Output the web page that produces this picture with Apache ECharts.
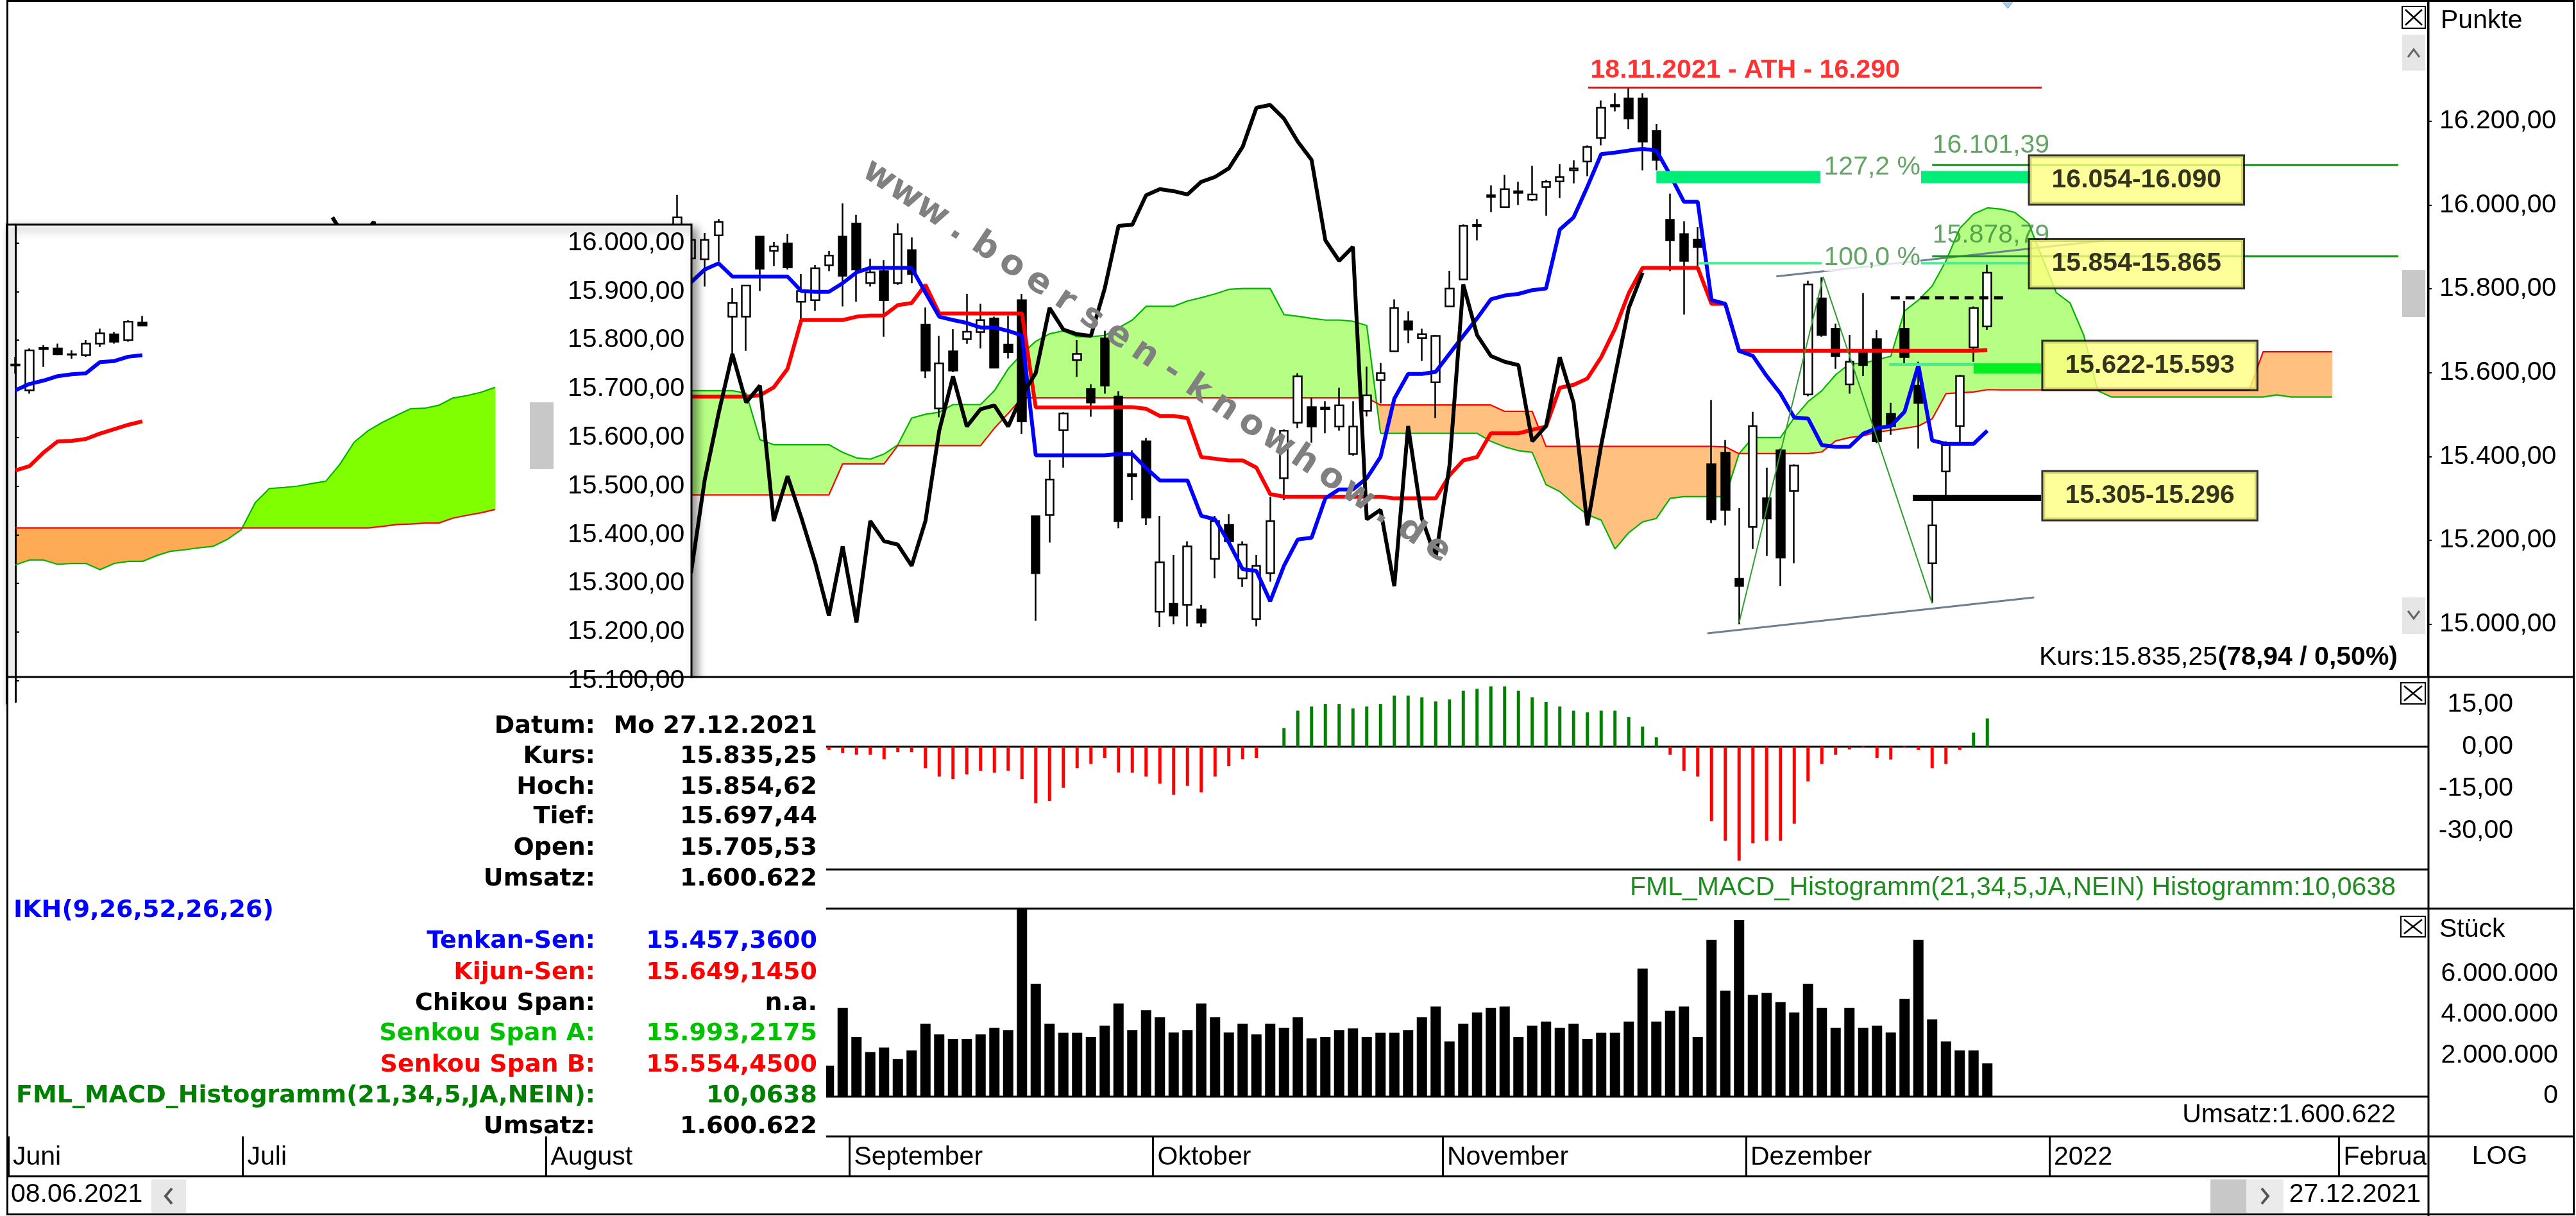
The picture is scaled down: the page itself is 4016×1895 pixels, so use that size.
<!DOCTYPE html>
<html>
<head>
<meta charset="utf-8">
<script src="https://cdn.jsdelivr.net/npm/echarts@6.0.0/dist/echarts.min.js"></script>
<style>
html,body{margin:0;padding:0;background:#ffffff;}
#chart{width:4016px;height:1895px;}
</style>
</head>
<body>
<div id="chart"></div>
<script>
// ================= DATA =================
const firstDate = '2021-06-08';
const lastDate = '2022-02-08';
const closedDays = ['2021-12-24'];
const monthNames = ['Januar','Februar','März','April','Mai','Juni','Juli','August','September','Oktober','November','Dezember'];

// candles (index 48 .. 143 = 27.12.2021)
const candleStart = 48;
const open = [
15930,15870,15868,15926,15729,15729,15923,15888,15906,15765,
15769,15853,15923,15955,15810,15839,15810,15890,15710,15510,
15646,15675,15692,15725,15662,15769,15256,15259,15458,15625,
15556,15677,15538,15355,15432,15035,15053,15051,15040,15157,
15236,15112,15018,15124,15345,15476,15513,15512,15467,15402,
15504,15577,15646,15718,15678,15572,15754,15819,15948,16020,
15995,16030,16013,16044,16058,16085,16107,16165,16243,16263,
16263,16182,15964,15929,15916,15378,15405,15111,15231,15298,
15411,15315,15543,15773,15700,15567,15643,15675,15497,15700,
15564,15147,15361,15468,15655,15705.53];
const high = [
16025,15935,15932,15966,15798,15806,15925,15910,15929,15832,
15854,15888,16004,15976,15869,15866,15955,15921,15751,15683,
15699,15784,15760,15729,15732,15784,15256,15388,15501,15673,
15567,15695,15551,15411,15440,15257,15166,15198,15050,15257,
15261,15198,15166,15302,15460,15594,15535,15527,15559,15527,
15609,15618,15771,15742,15700,15685,15840,15953,15966,16048,
16074,16057,16096,16062,16100,16110,16147,16258,16276,16290,
16276,16200,16028,15960,15946,15530,15435,15275,15502,15370,
15415,15378,15816,15824,15712,15685,15786,15697,15523,15767,
15621,15293,15432,15590,15754,15854.62];
const low = [
15900,15850,15802,15862,15640,15647,15791,15851,15843,15717,
15743,15839,15754,15765,15802,15681,15806,15810,15582,15489,
15596,15664,15653,15607,15629,15450,15014,15195,15370,15585,
15490,15545,15228,15294,15236,15000,15006,15001,15000,15112,
15190,15092,15001,15104,15294,15463,15429,15451,15457,15398,
15491,15522,15644,15665,15623,15487,15752,15819,15914,15983,
15995,16000,16010,15974,16017,16053,16071,16147,16231,16187,
16085,16085,15839,15734,15846,15240,15235,15006,15180,15164,
15094,15147,15539,15681,15604,15545,15587,15428,15447,15613,
15415,15055,15296,15426,15621,15697.44];
const close = [
15970,15915,15915,15959,15762,15804,15845,15899,15848,15791,
15846,15877,15828,15843,15836,15769,15929,15832,15600,15617,
15600,15693,15721,15607,15644,15479,15124,15342,15498,15640,
15524,15564,15245,15350,15253,15149,15026,15186,15010,15245,
15198,15190,15141,15245,15457,15586,15467,15508,15517,15467,
15541,15594,15750,15698,15687,15683,15797,15949,15952,16024,
16039,16034,16026,16057,16069,16090,16143,16240,16247,16213,
16156,16111,15914,15864,15898,15249,15271,15094,15468,15251,
15160,15375,15807,15685,15635,15621,15613,15432,15468,15632,
15523,15235,15423,15587,15750,15835.25];

// Ichimoku lines
const lineStart = 49;
const tenkan = [
15812,15843,15858,15826,15826,15826,15826,15826,15791,15789,
15789,15810,15836,15847,15847,15847,15847,15787,15729,15721,
15714,15703,15703,15695,15684,15399,15399,15399,15399,15399,
15399,15402,15402,15369,15340,15340,15340,15257,15249,15195,
15133,15129,15059,15141,15202,15206,15298,15319,15319,15345,
15395,15533,15592,15592,15597,15640,15683,15725,15771,15780,
15784,15793,15797,15940,15970,16045,16125,16129,16134,16138,
16134,16074,16008,16008,15769,15760,15647,15635,15587,15545,
15488,15486,15423,15419,15419,15450,15463,15468,15502,15613,
15434,15426,15426,15426,15457.36];
const kijun = [
15538,15538,15538,15538,15538,15541,15560,15604,15721,15721,
15721,15721,15729,15732,15732,15757,15762,15806,15737,15737,
15737,15737,15737,15737,15737,15512,15512,15512,15512,15512,
15512,15513,15513,15509,15492,15492,15487,15395,15391,15387,
15387,15370,15308,15302,15302,15302,15302,15302,15302,15302,
15302,15298,15298,15298,15298,15352,15387,15395,15451,15451,
15451,15459,15467,15559,15566,15581,15632,15700,15786,15847,
15847,15847,15847,15847,15760,15760,15647,15647,15647,15647,
15647,15647,15647,15647,15647,15647,15647,15647,15647,15647,
15647,15647,15647,15647,15649.145];
// Chikou span (closes plotted 25 bars back), index 23 .. 118
const chikouStart = 23;
const chikou = [
15970,15915,15915,15959,15762,15804,15845,15899,15848,15791,
15846,15877,15828,15843,15836,15769,15929,15832,15600,15617,
15600,15693,15721,15607,15644,
15479,15124,15342,15498,15640,15524,15564,15245,15350,15253,
15149,15026,15186,15010,15245,15198,15190,15141,15245,15457,
15586,15467,15508,15517,15467,15541,15594,15750,15698,15687,
15683,15797,15949,15952,16024,16039,16034,16026,16057,16069,
16090,16143,16240,16247,16213,16156,16111,15914,15864,15898,
15249,15271,15094,15468,15251,15160,15375,15807,15685,15635,
15621,15613,15432,15468,15632,15523,15235,15423,15587,15750,
15835.25];
// Senkou spans, index 49 .. 168
const spanStart = 49;
const senkouA = [
15552,15552,15552,15552,15546,15436,15424,15424,15424,15424,
15424,15406,15393,15390,15402,15424,15487,15496,15501,15519,
15519,15519,15552,15604,15640,15670,15688,15695,15681,15681,
15684,15702,15721,15754,15754,15754,15767,15775,15784,15795,
15797,15797,15797,15734,15730,15725,15721,15721,15718,15708,
15451,15451,15451,15451,15451,15451,15451,15451,15432,15419,
15410,15406,15330,15314,15285,15260,15247,15180,15218,15243,
15251,15298,15302,15302,15302,15302,15403,15441,15441,15441,
15488,15526,15552,15590,15616,15617,15626,15634,15743,15769,
15803,15864,15943,15978,15993.2175,15990,15982,15955,15870,15787,
15762,15684,15552,15537,15537,15537,15537,15537,15537,15537,
15537,15537,15537,15537,15537,15542,15537,15537,15537,15537];
const senkouB = [
15306,15306,15306,15306,15306,15306,15306,15306,15306,15306,
15306,15379,15379,15379,15379,15422,15422,15422,15422,15422,
15422,15422,15463,15498,15535,15535,15535,15535,15535,15535,
15535,15535,15535,15535,15535,15535,15535,15535,15535,15535,
15535,15535,15535,15535,15535,15535,15535,15535,15535,15535,
15518,15518,15518,15518,15518,15518,15518,15518,15518,15503,
15503,15503,15420,15420,15420,15420,15420,15420,15420,15420,
15420,15420,15420,15420,15420,15419,15403,15403,15403,15403,
15403,15403,15407,15433,15441,15445,15454,15458,15463,15468,
15485,15545,15547,15549,15554.45,15554,15554,15554,15554,15554,
15554,15554,15554,15554,15554,15554,15554,15554,15554,15554,
15554,15554,15554,15554,15645,15645,15645,15645,15645,15645];

// MACD histogram and volume, index 59 .. 143
const histStart = 59;
const macd = [
-1.2,-2.3,-2.9,-2.9,-4.5,-2.0,-2.0,-7.7,-10.7,-11.6,
-9.9,-8.6,-9.3,-8.6,-11.6,-20.2,-19.4,-14.7,-7.7,-6.2,
-4.0,-9.2,-9.3,-10.7,-13.2,-17.2,-14.0,-16.3,-10.7,-7.0,
-4.5,-4.0,0,6.6,12.8,14.3,15.2,15.2,13.6,14.3,
15.2,18.2,18.2,17.6,16.1,16.8,19.9,20.6,21.5,21.5,
19.9,17.6,15.9,14.3,12.8,12.2,12.8,12.8,10.6,7.1,
3.3,-2.9,-8.6,-10.7,-26.6,-33.6,-40.7,-34.5,-33.6,-33.6,
-27.5,-12.4,-6.2,-2.9,-1.0,-0.3,-4.0,-4.6,-0.3,-1.2,
-7.7,-6.2,-1.2,5.0,10.0638];
const volume = [
1490000,4320000,2900000,2160000,2380000,1820000,2240000,3540000,3020000,2800000,
2800000,3020000,3350000,3240000,9500000,5510000,3540000,3100000,3100000,2900000,
3450000,4540000,3240000,4210000,3870000,3120000,3240000,4540000,3870000,3120000,
3540000,3020000,3540000,3350000,3870000,2830000,2900000,3240000,3320000,2900000,
3100000,3100000,3240000,3870000,4390000,2680000,3540000,4100000,4320000,4390000,
2900000,3450000,3650000,3350000,3540000,2800000,3100000,3100000,3650000,6250000,
3650000,4190000,4390000,2900000,7660000,5170000,8630000,4960000,5060000,4610000,
4100000,5510000,4320000,3350000,4320000,3350000,3450000,3120000,4760000,7660000,
3760000,2680000,2240000,2240000,1600622];

// axis tick values
const priceTicks = [15000,15200,15400,15600,15800,16000,16200];
const macdTicks = [-30,-15,0,15];
const volTicks = [0,2000000,4000000,6000000];
const insetTicks = [15100,15200,15300,15400,15500,15600,15700,15800,15900,16000];

// inset (small chart) data, index 0 .. 34
const insetOpen  = [15748,15697,15782,15783,15770,15769,15793,15812,15800,15836];
const insetHigh  = [15766,15783,15790,15793,15779,15800,15824,15817,15841,15850];
const insetLow   = [15731,15690,15745,15769,15762,15766,15786,15793,15797,15829];
const insetClose = [15750,15779,15784,15771,15771,15793,15814,15797,15838,15830];
const insetTenkan = [15697,15710,15717,15726,15730,15732,15755,15757,15766,15769];
const insetKijun  = [15532,15541,15569,15592,15593,15597,15608,15617,15626,15633];
const insetSpanA = [15338,15348,15348,15339,15341,15341,15328,15341,15345,15345,
15357,15366,15369,15373,15376,15390,15410,15466,15495,15497,
15500,15505,15510,15545,15590,15614,15631,15645,15659,15660,
15666,15681,15686,15693,15703];
const insetSpanB = [15414,15414,15414,15414,15414,15414,15414,15414,15414,15414,
15414,15414,15414,15414,15414,15414,15414,15414,15414,15414,
15414,15414,15414,15414,15414,15414,15417,15421,15422,15424,
15424,15434,15440,15445,15452];

// annotations drawn in chart coordinates [bar index, price]
const athLine = [[114.06,16290],[146.94,16290]];
const fib127Bars = [[[119.0,16068.5],[130.9,16068.5]], [[138.2,16068.5],[146.2,16068.5]]];
const fib127Line = [[139.0,16098],[172.8,16098]];
const fib100Thin = [[[122.1,15858],[131.0,15858]], [[138.2,15858],[146.2,15858]]];
const fib100Line = [[139.0,15875],[172.8,15875]];
const zoneThin = [[135.9,15614.6],[142.2,15614.6]];
const zoneBar = [[142.0,15605],[146.9,15605]];
const supportBar = [[137.6,15299],[146.9,15299]];
const dashedLine = [[136.0,15774.7],[144.2,15774.7]];
const trendLow = [[122.7,14985.3],[146.4,15067.9]];
const trendHigh = [[127.7,15826.2],[151.4,15913.3]];
const zigzag = [[125.0,15010],[131.1,15825],[139.0,15054]];
const textNotes = [
  {pos:[114.2,16333], text:'18.11.2021 - ATH - 16.290', kind:'ath'},
  {pos:[131.13,16092], text:'127,2 %', kind:'fib'},
  {pos:[139.0,16146], text:'16.101,39', kind:'fib'},
  {pos:[131.13,15871], text:'100,0 %', kind:'fib'},
  {pos:[139.0,15926], text:'15.878,79', kind:'fib'}
];
const zoneBoxes = [
  {pos:[146.06,16061.4], text:'16.054-16.090'},
  {pos:[146.06,15857], text:'15.854-15.865'},
  {pos:[147.03,15612.3], text:'15.622-15.593'},
  {pos:[147.03,15304.2], text:'15.305-15.296'}
];

// ================= HELPERS =================
const REG = 'Liberation Sans';
const TAH = 'DejaVu Sans';
const de = (v, d) => {
  const neg = v < 0;
  const s = Math.abs(v).toFixed(d).split('.');
  const int = s[0].replace(/\B(?=(\d{3})+(?!\d))/g, '.');
  return (neg ? '-' : '') + int + (s[1] ? ',' + s[1] : '');
};
const fmtDate = s => s.slice(8,10) + '.' + s.slice(5,7) + '.' + s.slice(0,4);

// trading-day calendar
const dates = [];
for (let d = new Date(firstDate + 'T12:00:00Z'); d <= new Date(lastDate + 'T12:00:00Z'); d.setUTCDate(d.getUTCDate() + 1)) {
  const wd = d.getUTCDay();
  const s = d.toISOString().slice(0, 10);
  if (wd === 0 || wd === 6 || closedDays.includes(s)) continue;
  dates.push(s);
}
const monthTicks = [];
const monthLabel = {};
dates.forEach((s, j) => {
  if (j === 0 || s.slice(5, 7) !== dates[j - 1].slice(5, 7)) {
    const v = j - 0.5;
    monthTicks.push(v);
    const m = +s.slice(5, 7);
    monthLabel[v] = m === 1 ? s.slice(0, 4) : monthNames[m - 1];
  }
});

// layout constants
const plotLeft = 13, plotRight = 3785, barStep = 21.5;
const xMin = -0.5, xMax = -0.5 + (plotRight - plotLeft) / barStep;
const insetRight = 870, insetStep = 22;
const insetXMax = -0.5 + (insetRight - plotLeft) / insetStep;

const pairs = (start, arr) => arr.map((v, k) => [start + k, v]);
const lastIdx = candleStart + close.length - 1;

const candleData = open.map((o, k) => [candleStart + k, o, close[k], low[k], high[k]]);
const insetCandleData = insetOpen.map((o, k) => [k, o, insetClose[k], insetLow[k], insetHigh[k]]);

const cloudData = (start, A, B) => {
  const out = [];
  for (let k = 0; k < A.length - 1; k++) out.push([start + k, A[k], B[k], A[k + 1], B[k + 1]]);
  return out;
};
function cloudRender(up, down) {
  return function (params, api) {
    const i = api.value(0);
    const a0 = api.coord([i, api.value(1)]), b0 = api.coord([i, api.value(2)]);
    const a1 = api.coord([i + 1, api.value(3)]), b1 = api.coord([i + 1, api.value(4)]);
    const d0 = b0[1] - a0[1], d1 = b1[1] - a1[1];
    const poly = (pts, c) => ({type: 'polygon', shape: {points: pts}, style: {fill: c, stroke: c, lineWidth: 1}});
    const ch = [];
    if (d0 * d1 >= 0) {
      ch.push(poly([a0, a1, b1, b0], (d0 + d1) >= 0 ? up : down));
    } else {
      const t = d0 / (d0 - d1);
      const X = [a0[0] + t * (a1[0] - a0[0]), a0[1] + t * (a1[1] - a0[1])];
      ch.push(poly([a0, X, b0], d0 >= 0 ? up : down));
      ch.push(poly([X, a1, b1], d1 >= 0 ? up : down));
    }
    return {type: 'group', children: ch};
  };
}
const lineS = (data, color, width, z, extra) => Object.assign({
  type: 'line', xAxisIndex: 0, yAxisIndex: 0, data, symbol: 'none', showSymbol: false, silent: true, z,
  lineStyle: {color, width, cap: 'butt'}
}, extra || {});

// ================= SERIES =================
const series = [];
// main chart
series.push({type: 'custom', xAxisIndex: 0, yAxisIndex: 0, z: 2, silent: true, clip: true,
  data: cloudData(spanStart, senkouA, senkouB), encode: {x: 0, y: [1, 2]},
  renderItem: cloudRender('#B6FF84', '#FFC080')});
series.push(lineS(pairs(spanStart, senkouA), '#00B400', 2.2, 3));
series.push(lineS(pairs(spanStart, senkouB), '#FF0000', 2.2, 3));
series.push({type: 'candlestick', xAxisIndex: 0, yAxisIndex: 0, z: 4, silent: true, barWidth: 13,
  data: candleData, encode: {x: 0, y: [1, 2, 3, 4]},
  itemStyle: {color: '#ffffff', color0: '#000000', borderColor: '#000000', borderColor0: '#000000', borderColorDoji: '#000000', borderWidth: 2.5}});
series.push(lineS(pairs(lineStart, kijun), '#FF0000', 6, 5));
series.push(lineS(pairs(lineStart, tenkan), '#0000FF', 6, 5));
series.push(lineS(pairs(chikouStart, chikou), '#000000', 6, 5));
// annotations
series.push(lineS(trendLow, '#6E7F92', 3, 6));
series.push(lineS(trendHigh, '#6E7F92', 3, 6));
series.push(lineS(zigzag, '#2E9E2E', 2, 6));
series.push(lineS(athLine, '#FF0000', 3, 6));
fib127Bars.forEach(d => series.push(lineS(d, '#00EE77', 19, 6)));
series.push(lineS(fib127Line, '#1E8C1E', 3, 6));
fib100Thin.forEach(d => series.push(lineS(d, '#44EE8C', 4, 6)));
series.push(lineS(fib100Line, '#1E8C1E', 3, 6));
series.push(lineS(zoneThin, '#44EE8C', 4, 6));
series.push(lineS(zoneBar, '#00EE22', 16, 6));
series.push(lineS(supportBar, '#000000', 10, 6));
series.push(lineS(dashedLine, '#000000', 5, 6, {lineStyle: {color: '#000', width: 5, type: [14, 9]}}));
// annotation texts
series.push({type: 'scatter', xAxisIndex: 0, yAxisIndex: 0, z: 7, silent: true, symbolSize: 1,
  itemStyle: {color: 'rgba(0,0,0,0)'},
  data: textNotes.map(n => ({value: n.pos, label: n.kind === 'ath'
    ? {show: true, position: 'right', distance: 0, formatter: n.text, color: '#FF0000', fontFamily: REG, fontWeight: 'bold', fontSize: 41}
    : {show: true, position: 'right', distance: 0, formatter: n.text, color: '#3C8C3C', fontFamily: REG, fontSize: 41, backgroundColor: n.text.indexOf('%') > 0 ? '#ffffff' : 'transparent'}}))});
series.push({type: 'scatter', xAxisIndex: 0, yAxisIndex: 0, z: 9, silent: true, symbolSize: 1,
  itemStyle: {color: 'rgba(0,0,0,0)'},
  data: zoneBoxes.map(b => ({value: b.pos})),
  label: {show: true, position: 'right', distance: 0,
    formatter: p => zoneBoxes[p.dataIndex].text,
    backgroundColor: '#FFFF80', borderColor: '#000', borderWidth: 3, padding: [14, 34, 14, 34], lineHeight: 46,
    color: '#000', fontFamily: REG, fontWeight: 'bold', fontSize: 41}});
// MACD
series.push({type: 'bar', xAxisIndex: 1, yAxisIndex: 2, silent: true, barWidth: 5,
  data: pairs(histStart, macd),
  itemStyle: {color: p => p.value[1] >= 0 ? '#008000' : '#FF0000'}});
// volume
series.push({type: 'bar', xAxisIndex: 2, yAxisIndex: 3, silent: true, barWidth: 16,
  data: pairs(histStart, volume), itemStyle: {color: '#000000'}});
// inset chart
series.push({type: 'custom', xAxisIndex: 4, yAxisIndex: 5, z: 11, silent: true, clip: true,
  data: cloudData(0, insetSpanA, insetSpanB), encode: {x: 0, y: [1, 2]},
  renderItem: cloudRender('#80FF00', '#FFAA55')});
series.push(lineS(pairs(0, insetSpanA), '#00B400', 2.2, 12, {xAxisIndex: 4, yAxisIndex: 5}));
series.push(lineS(pairs(0, insetSpanB), '#FF0000', 2.2, 12, {xAxisIndex: 4, yAxisIndex: 5}));
series.push({type: 'candlestick', xAxisIndex: 4, yAxisIndex: 5, z: 13, silent: true, barWidth: 13,
  data: insetCandleData, encode: {x: 0, y: [1, 2, 3, 4]},
  itemStyle: {color: '#ffffff', color0: '#000000', borderColor: '#000000', borderColor0: '#000000', borderColorDoji: '#000000', borderWidth: 2.5}});
series.push(lineS(pairs(0, insetKijun), '#FF0000', 6, 14, {xAxisIndex: 4, yAxisIndex: 5}));
series.push(lineS(pairs(0, insetTenkan), '#0000FF', 6, 14, {xAxisIndex: 4, yAxisIndex: 5}));

// ================= GRAPHIC (frame, panel texts) =================
const G = [];
const T = (x, y, text, o) => {
  o = o || {};
  G.push({type: 'text', x, y, z: o.z || 50, silent: true, rotation: o.rotation || 0,
    style: {text, fill: o.fill || '#000', font: o.font || ('41px "' + REG + '"'),
      textAlign: o.align || 'left', align: o.align || 'left', textVerticalAlign: 'middle', verticalAlign: 'middle'}});
};
const L = (x1, y1, x2, y2, w, c, z) => G.push({type: 'line', silent: true, z: z || 60,
  shape: {x1, y1, x2, y2}, style: {stroke: c || '#000', lineWidth: w || 3}});
const R = (x, y, w, h, fill, stroke, lw, z, extra) => G.push(Object.assign({type: 'rect', silent: true, z: z || 20,
  shape: {x, y, width: w, height: h}, style: Object.assign({fill: fill, stroke: stroke || null, lineWidth: lw || 0}, (extra || {}))}));
const P = (pts, c, w, z) => G.push({type: 'polyline', silent: true, z: z || 21, shape: {points: pts}, style: {stroke: c, lineWidth: w, fill: null}});
const XBox = (x, y, w, h) => { R(x, y, w, h, '#fff', '#000', 2, 20); L(x + 5, y + 5, x + w - 5, y + h - 5, 2.5, '#000', 21); L(x + w - 5, y + 5, x + 5, y + h - 5, 2.5, '#000', 21); };

// watermark
const wm = 'www.boersen-knowhow.de';
const wmA = [1370, 275], wmB = [2241, 856];
const wmRot = -Math.atan2(wmB[1] - wmA[1], wmB[0] - wmA[0]);
for (let k = 0; k < wm.length; k++) {
  const t = k / (wm.length - 1);
  G.push({type: 'text', silent: true, z: 8, x: wmA[0] + t * (wmB[0] - wmA[0]), y: wmA[1] + t * (wmB[1] - wmA[1]), rotation: wmRot,
    style: {text: wm[k], fill: '#808080', font: 'bold 54px "' + TAH + '"', textAlign: 'center', align: 'center', textVerticalAlign: 'middle', verticalAlign: 'middle'}});
}

// inset box
R(10.5, 350, 1067.5, 746, '#ffffff', '#000', 3, 10, {shadowBlur: 14, shadowOffsetX: 7, shadowOffsetY: 7, shadowColor: 'rgba(0,0,0,0.45)'});
R(826, 627, 37, 104, '#C8C8C8', null, 0, 15);

// info box below
R(12, 1057, 1276, 714, '#ffffff', null, 0, 10);
const rowY = [1132, 1179, 1227, 1273, 1322, 1370, 1419, 1467, 1516, 1564, 1611, 1660, 1708, 1756];
const info = [
  ['Datum:', 'Mo ' + fmtDate(dates[lastIdx]), '#000'],
  ['Kurs:', de(close[close.length - 1], 2), '#000'],
  ['Hoch:', de(high[high.length - 1], 2), '#000'],
  ['Tief:', de(low[low.length - 1], 2), '#000'],
  ['Open:', de(open[open.length - 1], 2), '#000'],
  ['Umsatz:', de(volume[volume.length - 1], 0), '#000'],
  null,
  ['Tenkan-Sen:', de(tenkan[tenkan.length - 1], 4), '#0000FF'],
  ['Kijun-Sen:', de(kijun[kijun.length - 1], 4), '#FF0000'],
  ['Chikou Span:', 'n.a.', '#000'],
  ['Senkou Span A:', de(senkouA[lastIdx - spanStart], 4), '#00C000'],
  ['Senkou Span B:', de(senkouB[lastIdx - spanStart], 4), '#FF0000'],
  ['FML_MACD_Histogramm(21,34,5,JA,NEIN):', de(macd[macd.length - 1], 4), '#008000'],
  ['Umsatz:', de(volume[volume.length - 1], 0), '#000']
];
const BF = 'bold 38px "' + TAH + '"';
info.forEach((r, k) => {
  if (!r) { T(21, rowY[k], 'IKH(9,26,52,26,26)', {font: BF, fill: '#0000FF', z: 11}); return; }
  T(928, rowY[k], r[0], {font: BF, fill: r[2], align: 'right', z: 11});
  T(1274, rowY[k], r[1], {font: BF, fill: r[2], align: 'right', z: 11});
});

// right column & panel texts
T(3805, 33, 'Punkte');
XBox(3745, 10, 36, 34);
R(3745, 54, 36, 56, '#E6E6E6', null, 0, 20);
P([[3754, 89], [3763, 77], [3772, 89]], '#666', 3);
R(3745, 421, 36, 73, '#C8C8C8', null, 0, 20);
R(3745, 931, 36, 57, '#E6E6E6', null, 0, 20);
P([[3754, 952], [3763, 964], [3772, 952]], '#666', 3);
T(3738, 1025, '(78,94 / 0,50%)', {align: 'right', font: 'bold 41px "' + REG + '"'});
T(3457, 1025, 'Kurs:15.835,25', {align: 'right'});
XBox(3743, 1064, 38, 33);
T(3735, 1384, 'FML_MACD_Histogramm(21,34,5,JA,NEIN) Histogramm:' + de(macd[macd.length - 1], 4), {align: 'right', fill: '#1E8C1E'});
XBox(3743, 1428, 38, 32);
T(3803, 1449, 'Stück');
T(3735, 1738, 'Umsatz:' + de(volume[volume.length - 1], 0), {align: 'right'});
R(3784, 1772, 228, 120, '#ffffff', null, 0, 10);
T(3897, 1803, 'LOG', {align: 'center', z: 11});
// scroll row
T(17, 1862, fmtDate(dates[0]));
R(236, 1838, 54, 52, '#E8E8E8', null, 0, 20);
P([[268, 1852], [258, 1864], [268, 1876]], '#555', 4);
R(3446, 1838, 56, 52, '#C8C8C8', null, 0, 20);
R(3502, 1838, 58, 52, '#EBEBEB', null, 0, 20);
P([[3526, 1852], [3536, 1864], [3526, 1876]], '#555', 4);
T(3774, 1862, fmtDate(dates[lastIdx]), {align: 'right'});
// small marker at top
G.push({type: 'polygon', silent: true, z: 20, shape: {points: [[3121, 2], [3139, 2], [3130, 13]]}, style: {fill: '#A8CCF0', stroke: '#6FA0E0', lineWidth: 1}});

// frame lines
G.push({type: 'rect', silent: true, z: 60, shape: {x: 11.5, y: 1.5, width: 4001, height: 1891}, style: {fill: null, stroke: '#000', lineWidth: 3}});
L(3786, 0, 3786, 1895);
L(11, 1055, 4013, 1055);
L(1288, 1355, 3786, 1355);
L(1288, 1416, 4013, 1416);
L(1288, 1709, 3786, 1709);
L(1288, 1771, 4013, 1771);
L(11, 1833, 3786, 1833);

// ================= AXES =================
const hiddenX = g => ({type: 'value', gridIndex: g, min: xMin, max: xMax, show: false});
const labelFont = {fontFamily: REG, fontSize: 41, color: '#000'};

const option = {
  animation: false,
  backgroundColor: '#ffffff',
  grid: [
    {left: plotLeft, top: 4, width: plotRight - plotLeft, height: 1049},
    {left: plotLeft, top: 1057, width: plotRight - plotLeft, height: 298},
    {left: plotLeft, top: 1416, width: plotRight - plotLeft, height: 292},
    {left: plotLeft, top: 1771, width: plotRight - plotLeft, height: 62},
    {left: plotLeft, top: 352, width: insetRight - plotLeft, height: 742}
  ],
  xAxis: [
    hiddenX(0),
    {type: 'value', gridIndex: 1, min: xMin, max: xMax, show: true,
      axisLine: {show: true, onZero: true, lineStyle: {color: '#000', width: 3}},
      axisTick: {show: false}, axisLabel: {show: false}, splitLine: {show: false}},
    hiddenX(2),
    {type: 'value', gridIndex: 3, min: xMin, max: xMax, position: 'top',
      axisLine: {show: false, onZero: false}, splitLine: {show: false},
      axisTick: {show: true, inside: true, length: 62, customValues: monthTicks, lineStyle: {color: '#000', width: 3}},
      axisLabel: Object.assign({show: true, inside: true, customValues: monthTicks, margin: 12, align: 'left', padding: [0, 0, 0, 7],
        formatter: v => monthLabel[v] || ''}, labelFont)},
    {type: 'value', gridIndex: 4, min: xMin, max: insetXMax, show: false}
  ],
  yAxis: [
    {type: 'log', logBase: 10, gridIndex: 0, min: 14888.5, max: 16503.4, show: false},
    {type: 'value', gridIndex: 0, position: 'right', min: 14877.1, max: 16483.0,
      axisLine: {show: true, lineStyle: {color: '#000', width: 3}},
      axisTick: {show: true, length: 6, customValues: priceTicks, lineStyle: {color: '#000', width: 2}},
      axisLabel: Object.assign({show: true, customValues: priceTicks, margin: 18, formatter: v => de(v, 2)}, labelFont),
      splitLine: {show: false}},
    {type: 'value', gridIndex: 1, position: 'right', min: -43.82, max: 24.37,
      axisLine: {show: false},
      axisTick: {show: true, length: 6, customValues: macdTicks, lineStyle: {color: '#000', width: 2}},
      axisLabel: Object.assign({show: true, customValues: macdTicks, margin: 133, align: 'right', formatter: v => de(v, 2)}, labelFont),
      splitLine: {show: false}},
    {type: 'value', gridIndex: 2, position: 'right', min: 0, max: 9197000,
      axisLine: {show: false},
      axisTick: {show: true, length: 6, customValues: volTicks, lineStyle: {color: '#000', width: 2}},
      axisLabel: Object.assign({show: true, customValues: volTicks, margin: 203, align: 'right', formatter: v => de(v, 0)}, labelFont),
      splitLine: {show: false}},
    {type: 'value', gridIndex: 3, min: 0, max: 1, show: false},
    {type: 'value', gridIndex: 4, position: 'right', min: 15056, max: 16035, z: 12,
      axisLine: {show: true, lineStyle: {color: '#000', width: 3}},
      axisTick: {show: true, length: 6, customValues: insetTicks, lineStyle: {color: '#000', width: 2}},
      axisLabel: Object.assign({show: true, customValues: insetTicks, margin: 15, formatter: v => de(v, 2)}, labelFont),
      splitLine: {show: false}}
  ],
  series,
  graphic: {elements: G}
};

const chart = echarts.init(document.getElementById('chart'), null, {renderer: 'canvas', width: 4016, height: 1895});
chart.setOption(option);
</script>
</body>
</html>
